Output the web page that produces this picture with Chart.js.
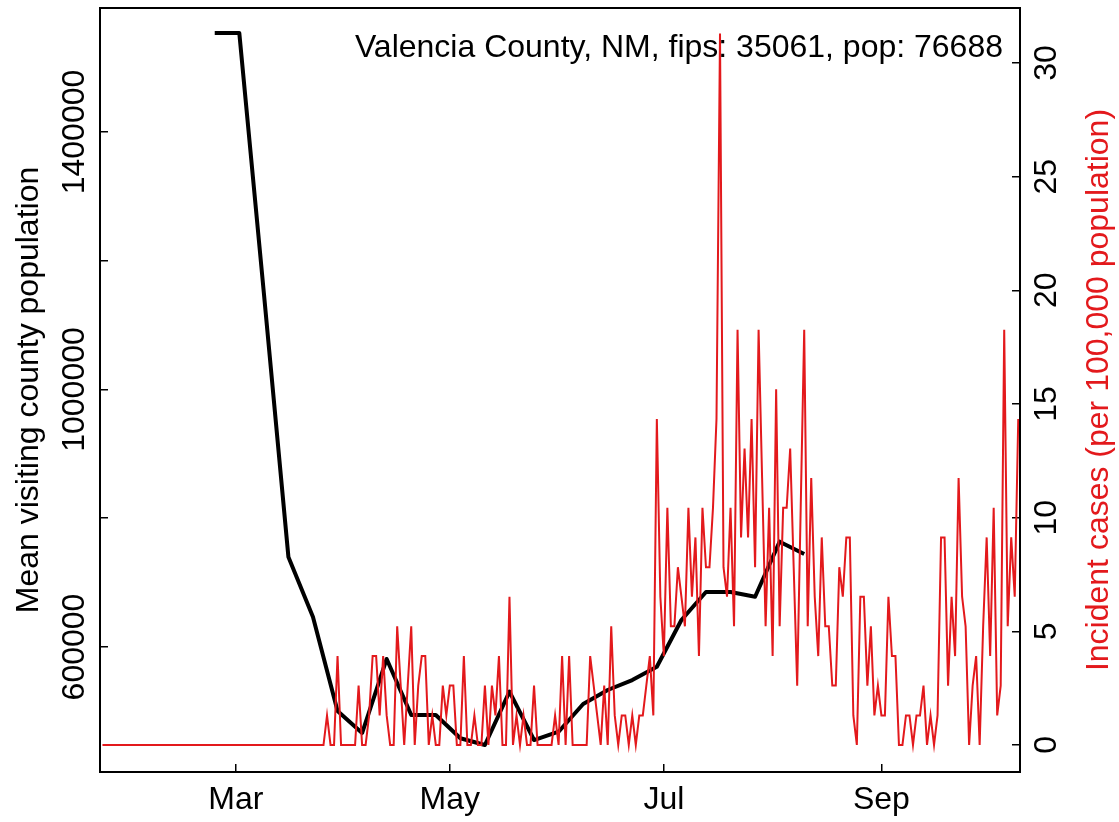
<!DOCTYPE html>
<html>
<head>
<meta charset="utf-8">
<script src="https://cdn.jsdelivr.net/npm/chart.js@4.4.1/dist/chart.umd.min.js"></script>
<style>
  html, body { margin: 0; padding: 0; background: #fff; }
</style>
</head>
<body>
<canvas id="myChart" width="1119" height="822"></canvas>
<script>
// county info shown in the top right corner
const countyTitle = 'Valencia County, NM, fips: 35061, pop: 76688';

// weekly mean visiting population (black line)
const visitDates = ['2020-02-24', '2020-03-02', '2020-03-09', '2020-03-16', '2020-03-23',
  '2020-03-30', '2020-04-06', '2020-04-13', '2020-04-20', '2020-04-27', '2020-05-04',
  '2020-05-11', '2020-05-18', '2020-05-25', '2020-06-01', '2020-06-08', '2020-06-15',
  '2020-06-22', '2020-06-29', '2020-07-06', '2020-07-13', '2020-07-20', '2020-07-27',
  '2020-08-03', '2020-08-10'];
const visitPop = [1553800, 1553800, 1150000, 739800, 646600,
  500600, 466400, 581400, 494400, 494400, 458200,
  447800, 530600, 455500, 468400, 511500, 533200,
  548700, 569400, 641900, 685400, 685400, 678100,
  763600, 744500];

// daily incident cases per 100,000 (red line), one value per day from caseStart
const caseStart = '2020-01-23';
const caseRate = [
  0, 0, 0, 0, 0, 0, 0, 0, 0, 0,
  0, 0, 0, 0, 0, 0, 0, 0, 0, 0,
  0, 0, 0, 0, 0, 0, 0, 0, 0, 0,
  0, 0, 0, 0, 0, 0, 0, 0, 0, 0,
  0, 0, 0, 0, 0, 0, 0, 0, 0, 0,
  0, 0, 0, 0, 0, 0, 0, 0, 0, 0,
  0, 0, 0, 0,
  1.30, 0, 0, 3.91, 0, 0, 0, 0, 0, 2.61,
  0, 0, 1.30, 3.91, 3.91, 1.30, 3.91, 1.30, 0, 0,
  5.22, 2.61, 0, 2.61, 5.22, 0, 2.61, 3.91, 3.91, 0,
  1.30, 0, 0, 2.61, 1.30, 2.61, 2.61, 0, 0, 3.91,
  0, 0, 1.30, 0, 0, 2.61, 0, 2.61, 1.30, 3.91,
  0, 0, 6.52, 0, 1.30, 0, 1.30, 0, 0, 2.61,
  0, 0, 0, 0, 0, 1.30, 0, 3.91, 0, 3.91,
  0, 0, 0, 0, 0, 3.91, 2.61, 1.30, 0, 2.61,
  0, 5.22, 1.30, 0, 1.30, 1.30, 0, 1.30, 0, 1.30,
  1.30, 2.61, 3.91, 1.30, 14.34, 6.52, 3.91, 10.43, 5.22, 5.22,
  7.82, 6.52, 5.22, 10.43, 6.52, 9.13, 3.91, 10.43, 7.82, 7.82,
  10.43, 14.34, 31.30, 7.82, 6.52, 10.43, 5.22, 18.26, 9.13, 13.04,
  9.13, 14.34, 7.82, 18.26, 11.74, 5.22, 10.43, 3.91, 15.65, 5.22,
  10.43, 10.43, 13.04, 7.82, 2.61, 10.43, 18.26, 5.22, 11.74, 6.52,
  3.91, 9.13, 5.22, 5.22, 2.61, 2.61, 7.82, 6.52, 9.13, 9.13,
  1.30, 0, 6.52, 6.52, 2.61, 5.22, 1.30, 2.61, 1.30, 1.30,
  6.52, 3.91, 3.91, 0, 0, 1.30, 1.30, 0, 1.30, 1.30,
  2.61, 0, 1.30, 0, 1.30, 9.13, 9.13, 2.61, 6.52, 3.91,
  11.74, 6.52, 5.22, 0, 2.61, 3.91, 0, 5.22, 9.13, 3.91,
  10.43, 1.30, 2.61, 18.26, 5.22, 9.13, 6.52, 14.34
];

// axis ticks
const monthDates = ['2020-03-01', '2020-05-01', '2020-07-01', '2020-09-01'];
const monthLabels = ['Mar', 'May', 'Jul', 'Sep'];
const popTicks = [600000, 800000, 1000000, 1200000, 1400000];
const popLabels = ['600000', '', '1000000', '', '1400000'];
const caseTicks = [0, 5, 10, 15, 20, 25, 30];

const RED = '#E3191C';
const FONT = '"Liberation Sans", Arial, Helvetica, sans-serif';
const FSIZE = 32;

// days since 1 Jan 2020
function dayNum(s) {
  const p = s.split('-').map(Number);
  return (Date.UTC(p[0], p[1] - 1, p[2]) - Date.UTC(2020, 0, 1)) / 86400000;
}

const visitPoints = visitDates.map((d, i) => ({ x: dayNum(d), y: visitPop[i] }));
const start = dayNum(caseStart);
const casePoints = caseRate.map((v, i) => ({ x: start + i, y: v }));
const monthTicks = monthDates.map(dayNum);

Chart.defaults.font.family = FONT;
Chart.defaults.font.size = FSIZE;
Chart.defaults.color = '#000';

// box around the plot, corner title and the right axis title (reads upward like R)
const extras = {
  id: 'extras',
  afterDraw(chart) {
    const c = chart.ctx;
    const a = chart.chartArea;
    c.save();
    c.strokeStyle = '#000';
    c.lineWidth = 2;
    c.strokeRect(a.left, a.top, a.right - a.left, a.bottom - a.top);
    c.fillStyle = '#000';
    c.font = FSIZE + 'px ' + FONT;
    c.textAlign = 'right';
    c.textBaseline = 'alphabetic';
    c.fillText(countyTitle, a.right - 17, a.top + 49);
    c.translate(1099, (a.top + a.bottom) / 2);
    c.rotate(-Math.PI / 2);
    c.textAlign = 'center';
    c.textBaseline = 'middle';
    c.fillStyle = RED;
    c.fillText('Incident cases (per 100,000 population)', 0, 0);
    c.restore();
  }
};

const tickGrid = { display: true, drawOnChartArea: false, drawTicks: true, tickLength: -8, color: '#000', lineWidth: 1.5 };
const axisBorder = { display: true, color: '#000', width: 2 };

// keep the plot box where R put it: no extra room for overhanging labels
function noPad(s) {
  s.paddingTop = 0; s.paddingBottom = 0; s.paddingLeft = 0; s.paddingRight = 0;
}

new Chart(document.getElementById('myChart'), {
  type: 'line',
  data: {
    datasets: [
      {
        label: 'Incident cases',
        data: casePoints,
        yAxisID: 'y2',
        borderColor: RED,
        borderWidth: 2,
        pointRadius: 0,
        tension: 0,
        order: 1
      },
      {
        label: 'Mean visiting county population',
        data: visitPoints,
        yAxisID: 'y',
        borderColor: '#000',
        borderWidth: 4,
        borderJoinStyle: 'round',
        pointRadius: 0,
        tension: 0,
        order: 2
      }
    ]
  },
  options: {
    responsive: false,
    animation: false,
    layout: { padding: { top: 8, left: 0, right: 0, bottom: 0 } },
    plugins: { legend: { display: false }, tooltip: { enabled: false } },
    scales: {
      x: {
        type: 'linear',
        position: 'bottom',
        min: 21.3,
        max: 283.5,
        afterBuildTicks: (s) => { s.ticks = monthTicks.map(v => ({ value: v })); },
        afterFit: (s) => { s.height = 50; noPad(s); },
        ticks: {
          autoSkip: false, maxRotation: 0, padding: 17,
          callback: (v, i) => monthLabels[i]
        },
        grid: tickGrid,
        border: axisBorder
      },
      y: {
        type: 'linear',
        position: 'left',
        min: 405825,
        max: 1592621,
        afterBuildTicks: (s) => { s.ticks = popTicks.map(v => ({ value: v })); },
        afterFit: (s) => { s.width = 100; noPad(s); },
        ticks: {
          autoSkip: false, minRotation: 90, maxRotation: 90, crossAlign: 'center', padding: -29,
          callback: (v, i) => popLabels[i]
        },
        title: {
          display: true, text: 'Mean visiting county population', color: '#000',
          font: { size: FSIZE }, padding: { top: 10, bottom: 0 }
        },
        grid: tickGrid,
        border: axisBorder
      },
      y2: {
        type: 'linear',
        position: 'right',
        min: -1.19,
        max: 32.42,
        afterBuildTicks: (s) => { s.ticks = caseTicks.map(v => ({ value: v })); },
        afterFit: (s) => { s.width = 99; noPad(s); },
        ticks: {
          autoSkip: false, minRotation: 90, maxRotation: 90, crossAlign: 'center', padding: 17,
          callback: (v) => String(v)
        },
        grid: tickGrid,
        border: axisBorder
      }
    }
  },
  plugins: [extras]
});
</script>
</body>
</html>
